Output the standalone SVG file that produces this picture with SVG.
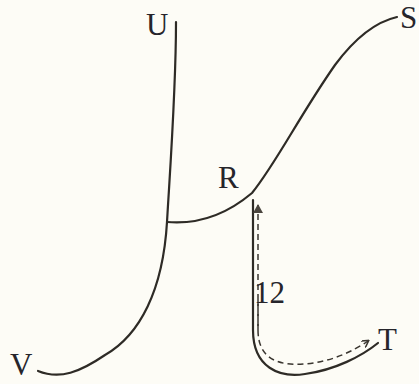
<svg xmlns="http://www.w3.org/2000/svg" width="419" height="384" viewBox="0 0 419 384">
<style>
.c{fill:none;stroke:#2e2b26;stroke-width:2.2;stroke-linecap:round;stroke-linejoin:round}
.d{fill:none;stroke:#3a3630;stroke-width:1.5;stroke-dasharray:6 4}
.t{font-family:"Liberation Serif","Times New Roman",serif;font-size:31px;fill:#26252b}
</style>
<defs>
<marker id="ah" markerWidth="8" markerHeight="8" refX="6" refY="4" orient="auto" markerUnits="userSpaceOnUse">
<path d="M0,0 L7,4 L0,8" fill="none" stroke="#3a3630" stroke-width="1.5"/>
</marker>
<marker id="ahR" markerWidth="10" markerHeight="10" refX="8" refY="5" orient="auto" markerUnits="userSpaceOnUse">
<path d="M0,0 L9,5 L0,10 Z" fill="#4a453e"/>
</marker>
</defs>
<rect width="419" height="384" fill="#fdfcf6"/>
<g id="connectors">
<path class="c" d="M176,22 C176,90 170,170 167,222 C163,290 140,335 105,355 C80,372 60,380 38,371"/>
<path class="c" d="M167,222 C190,224 220,220 252,193 C275,165 300,115 335,65 C355,38 375,22 397,17"/>
<path class="c" d="M253,200 L253,330 C253,368 280,378 305,374 C335,370 362,356 378,343"/>
<path class="d" d="M258,330 L258,205" marker-end="url(#ahR)"/>
<path class="d" d="M258,300 L258,330 C258,360 280,366 305,364 C330,362 352,352 368,341" marker-end="url(#ah)"/>
</g>
<g id="node-U"><text class="t" x="146" y="35">U</text></g>
<g id="node-S"><text class="t" x="400" y="28">S</text></g>
<g id="node-R"><text class="t" x="218" y="188">R</text></g>
<g id="node-12"><text class="t" x="254" y="303">12</text></g>
<g id="node-T"><text class="t" x="378" y="350">T</text></g>
<g id="node-V"><text class="t" x="10" y="375">V</text></g>
</svg>
